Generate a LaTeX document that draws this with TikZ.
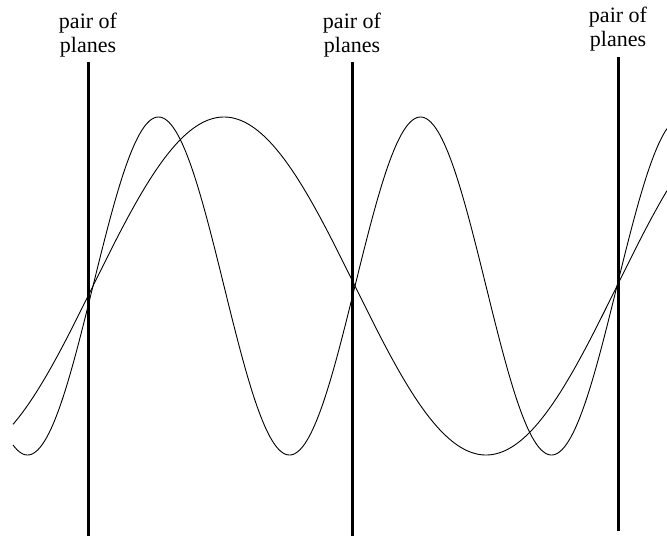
\documentclass[tikz,border=0pt]{standalone}
\usepackage{fontspec}
\setmainfont{Liberation Serif}
\begin{document}
\begin{tikzpicture}[x=1pt,y=-1pt,
  plane/.style={line width=3pt},
  wave/.style={line width=0.9pt, domain=13:667, samples=400},
  lbl/.style={align=center, anchor=south, inner sep=0pt, font=\fontsize{22}{24}\selectfont}]
\useasboundingbox (0,0) rectangle (667,536);
% planes
\coordinate (p1t) at (88.5,62);
\coordinate (p1b) at (88.5,536);
\coordinate (p2t) at (352.5,62);
\coordinate (p2b) at (352.5,536);
\coordinate (p3t) at (618,57);
\coordinate (p3b) at (618,531);
\draw[plane] (p1t) -- (p1b);
\draw[plane] (p2t) -- (p2b);
\draw[plane] (p3t) -- (p3b);
% labels
\node[lbl] (l1) at (88,57) {pair of\\planes};
\node[lbl] (l2) at (352,57) {pair of\\planes};
\node[lbl] (l3) at (618,51) {pair of\\planes};
% waves
\draw[wave] plot (\x, {286-169*sin((\x-93)/262*180)});
\draw[wave] plot (\x, {286-169*sin((\x-93)/131*180)});
\end{tikzpicture}
\end{document}
